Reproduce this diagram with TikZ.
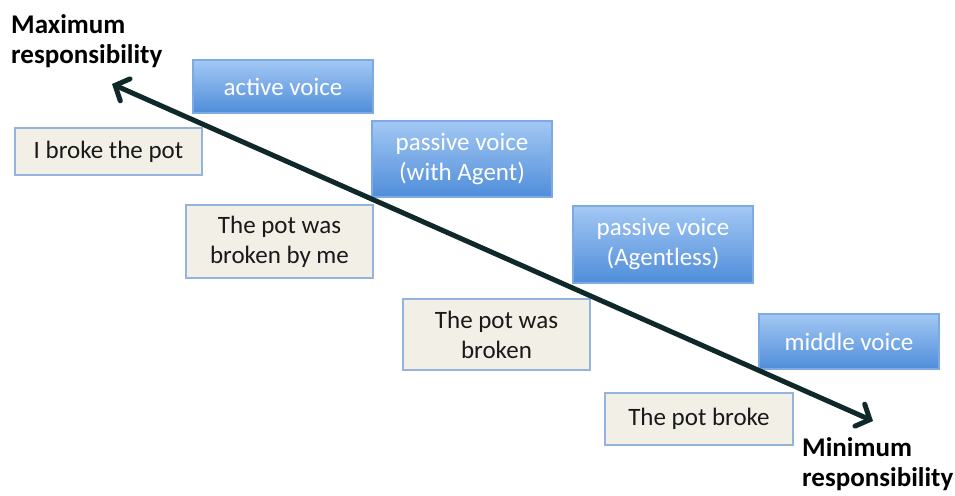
\documentclass[tikz,border=0pt]{standalone}
\usepackage{fontspec}
\setmainfont{Carlito}
\usepackage{tikz}
\usetikzlibrary{arrows.meta}
\definecolor{voicetop}{HTML}{A3C8F4}
\definecolor{voicebot}{HTML}{4F8DDA}
\definecolor{voiceedge}{HTML}{7DAAE3}
\definecolor{sentfill}{HTML}{F2EFE7}
\definecolor{sentedge}{HTML}{94B4DC}
\definecolor{scaleline}{HTML}{0F2829}
\begin{document}
\begin{tikzpicture}[
   x=1pt,y=-1pt,
   font=\fontsize{25}{30}\selectfont,
   voice/.style={draw=voiceedge,line width=1.2pt,top color=voicetop,bottom color=voicebot,
      text=white,align=center,minimum width=180pt,inner sep=0pt},
   sentence/.style={draw=sentedge,line width=1.6pt,fill=sentfill,text=black!90,
      align=center,minimum width=187pt,inner sep=0pt},
   pole/.style={font=\fontsize{27}{30}\selectfont\bfseries,align=left,anchor=north west,inner sep=0pt},
   resparrow/.style={{Straight Barb[length=11pt,width=24pt,line cap=round]}-{Straight Barb[length=11pt,width=24pt,line cap=round]},
      line width=5pt,draw=scaleline,line cap=round}]
\useasboundingbox (0,0) rectangle (955,495);
% voices (blue)
\node[voice,minimum height=53pt] (active) at (283,86.5) {active voice};
\node[voice,minimum height=76pt] (agent) at (462,159) {passive voice\\(with Agent)};
\node[voice,minimum height=77pt] (agentless) at (663,244.5) {passive voice\\(Agentless)};
\node[voice,minimum height=55pt] (middle) at (849,341.5) {middle voice};
% example sentences
\node[sentence,minimum height=47pt] (ibroke) at (108.5,151.5) {I broke the pot};
\node[sentence,minimum height=73pt] (byme) at (279.5,241.5) {The pot was\\broken by me};
\node[sentence,minimum height=71pt] (broken) at (496.5,334.5) {The pot was\\broken};
\node[sentence,minimum height=52pt,minimum width=188pt] (broke) at (699,419) {The pot broke};
% poles of the scale
\node[pole] (maxresp) at (11,14) {Maximum\\responsibility};
\node[pole] (minresp) at (802,437) {Minimum\\responsibility};
\coordinate (maxend) at (112,84);
\coordinate (minend) at (873,421);
\draw[resparrow] (minend) -- (maxend);
\end{tikzpicture}
\end{document}
